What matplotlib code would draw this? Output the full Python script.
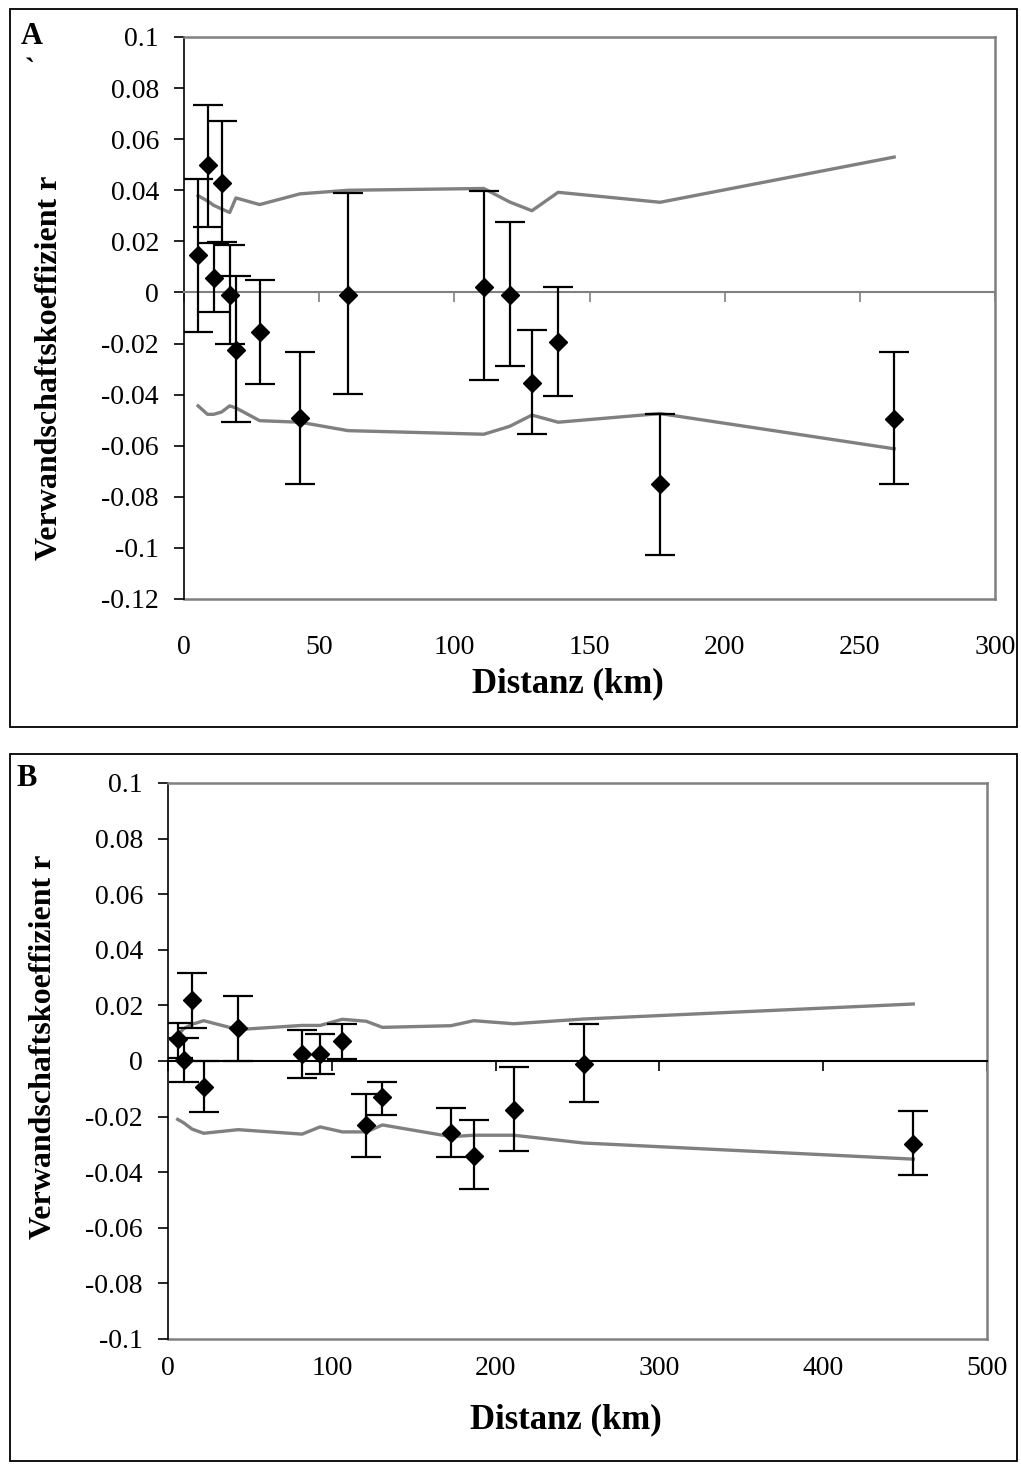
import numpy as np
import matplotlib
matplotlib.use('Agg')
import matplotlib.pyplot as plt
from matplotlib.patches import Rectangle
from matplotlib.ticker import FuncFormatter, MultipleLocator

plt.rcParams['font.family'] = ['Liberation Serif', 'DejaVu Serif']
plt.rcParams['axes.unicode_minus'] = False

# panel A
dist_a = np.array([5.2, 8.7, 11.0, 13.9, 16.9, 19.2, 28.0, 42.9, 60.7, 110.9, 120.5, 128.7, 138.4, 176.1, 262.7])
r_a = np.array([0.0148, 0.050, 0.0056, 0.043, -0.0009, -0.0227, -0.0156, -0.0492, -0.001, 0.0023, -0.001, -0.0353, -0.0195, -0.075, -0.0494])
r_a_hi = np.array([0.0445, 0.0733, 0.0194, 0.0673, 0.0187, 0.0063, 0.0048, -0.0233, 0.039, 0.0398, 0.0275, -0.0148, 0.0023, -0.0477, -0.0233])
r_a_lo = np.array([-0.0155, 0.0258, -0.0077, 0.0199, -0.0203, -0.0508, -0.0359, -0.075, -0.0398, -0.0343, -0.0289, -0.0555, -0.0406, -0.1027, -0.075])
ci_a_up = np.array([0.0379, 0.0358, 0.0341, 0.0327, 0.0313, 0.0370, 0.0344, 0.0386, 0.0400, 0.0407, 0.0354, 0.0320, 0.0392, 0.0353, 0.0530])
ci_a_low = np.array([-0.0444, -0.0477, -0.0477, -0.0468, -0.0444, -0.0452, -0.0502, -0.0508, -0.0541, -0.0555, -0.0524, -0.0480, -0.0508, -0.0474, -0.0612])

# panel B
dist_b = np.array([5.9, 9.5, 14.7, 21.8, 42.8, 81.9, 92.9, 106.4, 121.0, 130.9, 172.7, 186.7, 211.0, 253.8, 455.0])
r_b = np.array([0.0078, 0.0005, 0.022, -0.0095, 0.012, 0.0026, 0.0026, 0.0071, -0.0231, -0.0129, -0.026, -0.034, -0.0175, -0.001, -0.0297])
r_b_hi = np.array([0.0137, 0.0084, 0.0318, 0.0, 0.0235, 0.0112, 0.0098, 0.0134, -0.0117, -0.0074, -0.0168, -0.0211, -0.0023, 0.0134, -0.0181])
r_b_lo = np.array([0.0012, -0.0074, 0.012, -0.0182, 0.0, -0.006, -0.0046, 0.0006, -0.0347, -0.0195, -0.0347, -0.0461, -0.0325, -0.0146, -0.0411])
ci_b_up = np.array([0.0092, 0.0116, 0.0132, 0.0145, 0.0113, 0.0128, 0.0128, 0.0150, 0.0143, 0.0121, 0.0127, 0.0145, 0.0134, 0.0151, 0.0205])
ci_b_low = np.array([-0.0210, -0.0222, -0.0245, -0.0260, -0.0247, -0.0263, -0.0237, -0.0255, -0.0255, -0.0230, -0.0272, -0.0267, -0.0267, -0.0295, -0.0353])

W, H = 1021, 1468
fig = plt.figure(figsize=(W / 100, H / 100), dpi=100)


def fmt(v, pos):
    return '%g' % (round(v, 3) + 0.0)


def panel(px, x, y, hi, lo, up, low, xmax, xstep, ymin, zero_col, xpad):
    l, r, t, b = px
    ax = fig.add_axes([l / W, 1 - b / H, (r - l) / W, (b - t) / H])
    ax.plot(x, up, color='#808080', lw=2.4, zorder=2)
    ax.plot(x, low, color='#808080', lw=2.4, zorder=2)
    ax.errorbar(x, y, yerr=[y - lo, hi - y], fmt='D', color='black', ms=9,
                capsize=11, elinewidth=1.6, capthick=1.6, zorder=3)
    ax.set_xlim(0, xmax)
    ax.set_ylim(ymin, 0.1)
    ax.yaxis.set_major_locator(MultipleLocator(0.02))
    ax.yaxis.set_major_formatter(FuncFormatter(fmt))
    ax.tick_params(axis='y', direction='out', length=7, width=1.2, pad=11, labelsize=20)
    ax.spines['left'].set_color('black')
    ax.spines['left'].set_linewidth(1.2)
    for s in ['top', 'right']:
        ax.spines[s].set_color('#808080')
        ax.spines[s].set_linewidth(1.8)
    ax.spines['bottom'].set_position(('data', 0))
    ax.spines['bottom'].set_color(zero_col)
    ax.spines['bottom'].set_linewidth(1.5)
    ax.xaxis.set_major_locator(MultipleLocator(xstep))
    ax.tick_params(axis='x', direction='out', length=7, width=1.2, color=zero_col, labelbottom=False)
    sec = ax.secondary_xaxis('bottom')
    sec.set_xticks(np.arange(0, xmax + 1, xstep))
    sec.xaxis.set_major_formatter(FuncFormatter(fmt))
    sec.tick_params(length=0, pad=xpad, labelsize=20)
    sec.spines['bottom'].set_color('#808080')
    sec.spines['bottom'].set_linewidth(1.8)
    return ax


panel((184, 995, 37, 599), dist_a, r_a, r_a_hi, r_a_lo, ci_a_up, ci_a_low, 300, 50, -0.12, '#808080', 26)
panel((168, 987, 783, 1339), dist_b, r_b, r_b_hi, r_b_lo, ci_b_up, ci_b_low, 500, 100, -0.1, 'black', 12)

# panel frames
for y0, y1 in [(9, 727), (754, 1461)]:
    fig.add_artist(Rectangle((10 / W, 1 - y1 / H), 1007 / W, (y1 - y0) / H, transform=fig.transFigure,
                             fill=False, edgecolor='black', lw=1.3))

fig.text(21 / W, 1 - 37 / H, 'A', fontsize=22, fontweight='bold', va='center', ha='left')
fig.text(25 / W, 1 - 72 / H, '`', fontsize=22, fontweight='bold', va='center', ha='left')
fig.text(16 / W, 1 - 778 / H, 'B', fontsize=22, fontweight='bold', va='center', ha='left')

fig.text(568 / W, 1 - 684 / H, 'Distanz (km)', fontsize=25, fontweight='bold', ha='center', va='center')
fig.text(566 / W, 1 - 1420 / H, 'Distanz (km)', fontsize=25, fontweight='bold', ha='center', va='center')
fig.text(50 / W, 1 - 368 / H, 'Verwandschaftskoeffizient r', fontsize=23, fontweight='bold',
         rotation=90, ha='center', va='center')
fig.text(44 / W, 1 - 1047 / H, 'Verwandschaftskoeffizient r', fontsize=23, fontweight='bold',
         rotation=90, ha='center', va='center')

fig.savefig('out.png', dpi=100, facecolor='white')
